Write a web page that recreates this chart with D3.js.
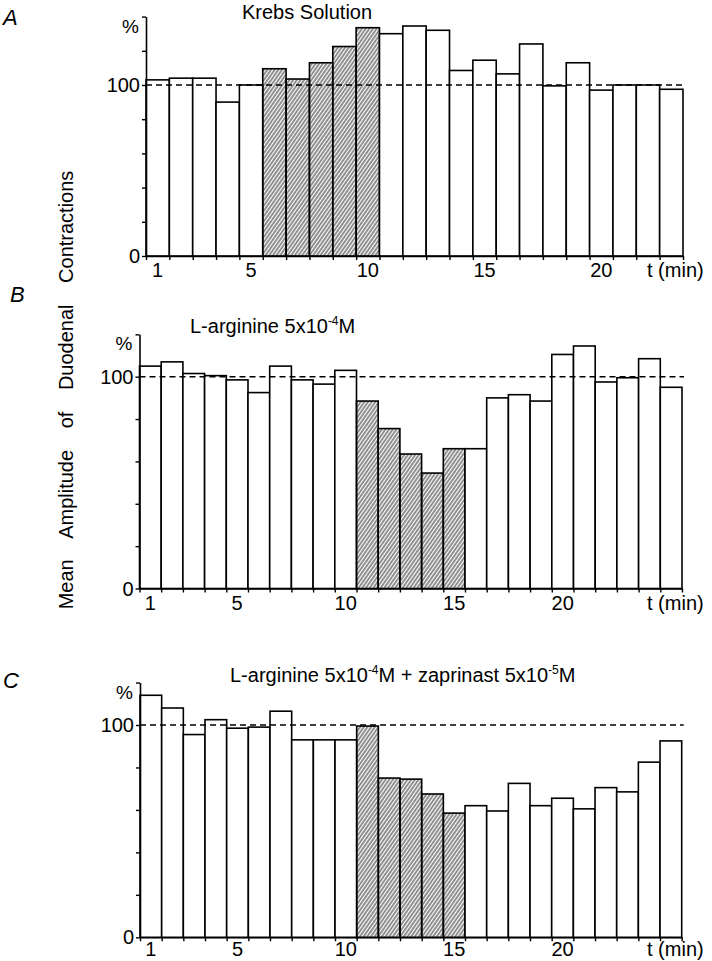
<!DOCTYPE html>
<html>
<head>
<meta charset="utf-8">
<script src="https://cdn.jsdelivr.net/npm/d3@7"></script>
<style>
  body { margin: 0; background: #fff; }
  svg { display: block; font-family: "Liberation Sans", Arial, Helvetica, sans-serif; }
</style>
</head>
<body>
<svg id="chart" width="712" height="961"></svg>
<script>
// minutes on the x axis
const minutesA = [1, 2, 3, 4, 5, 6, 7, 8, 9, 10, 11, 12, 13, 14, 15, 16, 17, 18, 19, 20, 21, 22, 23];
const minutesBC = [1, 2, 3, 4, 5, 6, 7, 8, 9, 10, 11, 12, 13, 14, 15, 16, 17, 18, 19, 20, 21, 22, 23, 24, 25];

// mean amplitude, % of control
const valuesA = [103, 104, 104, 90, 100, 109.5, 103.5, 113, 122.5, 133.5, 130, 134.5, 132, 108.5, 114.5, 106.5, 124, 99.5, 113, 97, 100, 100, 97.5];
const valuesB = [105, 107, 101.5, 100.5, 98.5, 92.5, 105, 98.5, 96.5, 103, 88.5, 75.5, 63.5, 54.5, 66, 66, 90, 91.5, 88.5, 110.5, 114.5, 97.5, 99.5, 108.5, 95];
const valuesC = [114, 108, 95.5, 102.5, 98.5, 99, 106.5, 93, 93, 93, 99.5, 75, 74.5, 67.5, 58.5, 62, 59.5, 72.5, 62, 65.5, 60.5, 70.5, 68.5, 82.5, 92.5];

// minutes with drug applied (hatched)
const treatedA = [6, 7, 8, 9, 10];
const treatedB = [11, 12, 13, 14, 15];
const treatedC = [11, 12, 13, 14, 15];

const xTickLabels = [1, 5, 10, 15, 20];
const yTickLabels = [0, 100];

const svg = d3.select('#chart');

// hatch pattern for the treatment bars
svg.append('defs')
  .append('pattern')
  .attr('id', 'hatch')
  .attr('patternUnits', 'userSpaceOnUse')
  .attr('width', 3)
  .attr('height', 3)
  .attr('patternTransform', 'rotate(35)')
  .append('line')
  .attr('x1', 1).attr('y1', 0)
  .attr('x2', 1).attr('y2', 3)
  .attr('stroke', '#222')
  .attr('stroke-width', 1);

function drawPanel(opt) {
  const x = d3.scaleBand()
    .domain(opt.minutes)
    .range([opt.left, opt.right])
    .padding(0);
  const xb = d3.scaleLinear()
    .domain([0, opt.minutes.length])
    .range([opt.left, opt.right]);
  // zero and 100 % positions fix the scale, axis runs up to opt.top
  const unit = (opt.zero - opt.hundred) / 100;
  const y = d3.scaleLinear()
    .domain([0, opt.top])
    .range([opt.zero, opt.zero - unit * opt.top]);

  const g = svg.append('g');

  // bars
  g.append('g')
    .selectAll('rect')
    .data(opt.values)
    .enter()
    .append('rect')
    .attr('x', (d, i) => x(opt.minutes[i]))
    .attr('y', d => y(d))
    .attr('width', x.bandwidth())
    .attr('height', d => opt.zero - y(d))
    .attr('fill', (d, i) => opt.treated.includes(opt.minutes[i]) ? 'url(#hatch)' : '#fff')
    .attr('stroke', '#000')
    .attr('stroke-width', 1.6);

  // dashed 100% line
  g.append('line')
    .attr('x1', opt.left)
    .attr('x2', opt.right + 2)
    .attr('y1', y(100))
    .attr('y2', y(100))
    .attr('stroke', '#000')
    .attr('stroke-width', 1.5)
    .attr('stroke-dasharray', '6,4');

  // y axis, ticks every 20 %
  const yAxis = g.append('g')
    .attr('transform', 'translate(' + opt.left + ',0)')
    .call(d3.axisLeft(y)
      .tickValues(d3.range(0, opt.top + 1, 20))
      .tickSize(4)
      .tickSizeOuter(0)
      .tickFormat(''));
  yAxis.select('.domain').attr('stroke-width', 1.6);
  yAxis.selectAll('.tick line').attr('stroke-width', 1.4);

  // x axis, ticks at bar edges
  const xAxis = g.append('g')
    .attr('transform', 'translate(0,' + opt.zero + ')')
    .call(d3.axisBottom(xb)
      .tickValues(d3.range(0, opt.minutes.length + 1))
      .tickSize(4)
      .tickSizeOuter(0)
      .tickFormat(''));
  xAxis.select('.domain').attr('stroke-width', 1.6);
  xAxis.selectAll('.tick line').attr('stroke-width', 1.4);

  // x labels
  g.append('g')
    .selectAll('text')
    .data(xTickLabels)
    .enter()
    .append('text')
    .attr('x', d => x(d) + x.bandwidth() / 2)
    .attr('y', opt.zero + opt.labelDy)
    .attr('text-anchor', 'middle')
    .attr('font-size', 20)
    .text(d => d);

  g.append('text')
    .attr('x', 647)
    .attr('y', opt.zero + opt.labelDy)
    .attr('font-size', 20)
    .text('t (min)');

  // y labels
  g.append('g')
    .selectAll('text')
    .data(yTickLabels)
    .enter()
    .append('text')
    .attr('x', opt.left - 6)
    .attr('y', d => y(d) + 7)
    .attr('text-anchor', 'end')
    .attr('font-size', 20)
    .text(d => d);

  g.append('text')
    .attr('x', opt.left - 7)
    .attr('y', y(opt.top) + 16)
    .attr('text-anchor', 'end')
    .attr('font-size', 19)
    .text('%');

  // panel letter and title
  g.append('text')
    .attr('x', opt.letterX)
    .attr('y', opt.letterY)
    .attr('font-size', 22)
    .attr('font-style', 'italic')
    .text(opt.letter);

  const title = g.append('text')
    .attr('x', opt.titleX)
    .attr('y', opt.titleY)
    .attr('font-size', 20);
  opt.title.forEach(part => {
    const s = title.append('tspan').text(part.t);
    if (part.sup) s.attr('font-size', 12).attr('dy', -8);
    if (part.down) s.attr('dy', 8);
  });
}

drawPanel({
  minutes: minutesA, values: valuesA, treated: treatedA,
  left: 146, right: 683, zero: 256, hundred: 85, top: 140, labelDy: 21,
  letter: 'A', letterX: 3, letterY: 25,
  title: [{ t: 'Krebs Solution' }], titleX: 242, titleY: 19
});

drawPanel({
  minutes: minutesBC, values: valuesB, treated: treatedB,
  left: 139.5, right: 682, zero: 588.5, hundred: 376.7, top: 120, labelDy: 21,
  letter: 'B', letterX: 10, letterY: 302,
  title: [{ t: 'L-arginine 5x10' }, { t: '-4', sup: true }, { t: 'M', down: true }],
  titleX: 190, titleY: 333
});

drawPanel({
  minutes: minutesBC, values: valuesC, treated: treatedC,
  left: 140, right: 681.7, zero: 937.3, hundred: 725, top: 120, labelDy: 19,
  letter: 'C', letterX: 3, letterY: 688,
  title: [{ t: 'L-arginine 5x10' }, { t: '-4', sup: true }, { t: 'M + zaprinast 5x10', down: true },
          { t: '-5', sup: true }, { t: 'M', down: true }],
  titleX: 230, titleY: 682
});

// shared y axis title
svg.append('text')
  .attr('transform', 'translate(73,390) rotate(-90)')
  .attr('text-anchor', 'middle')
  .attr('font-size', 20)
  .attr('word-spacing', 16)
  .text('Mean Amplitude of Duodenal Contractions');
</script>
</body>
</html>
